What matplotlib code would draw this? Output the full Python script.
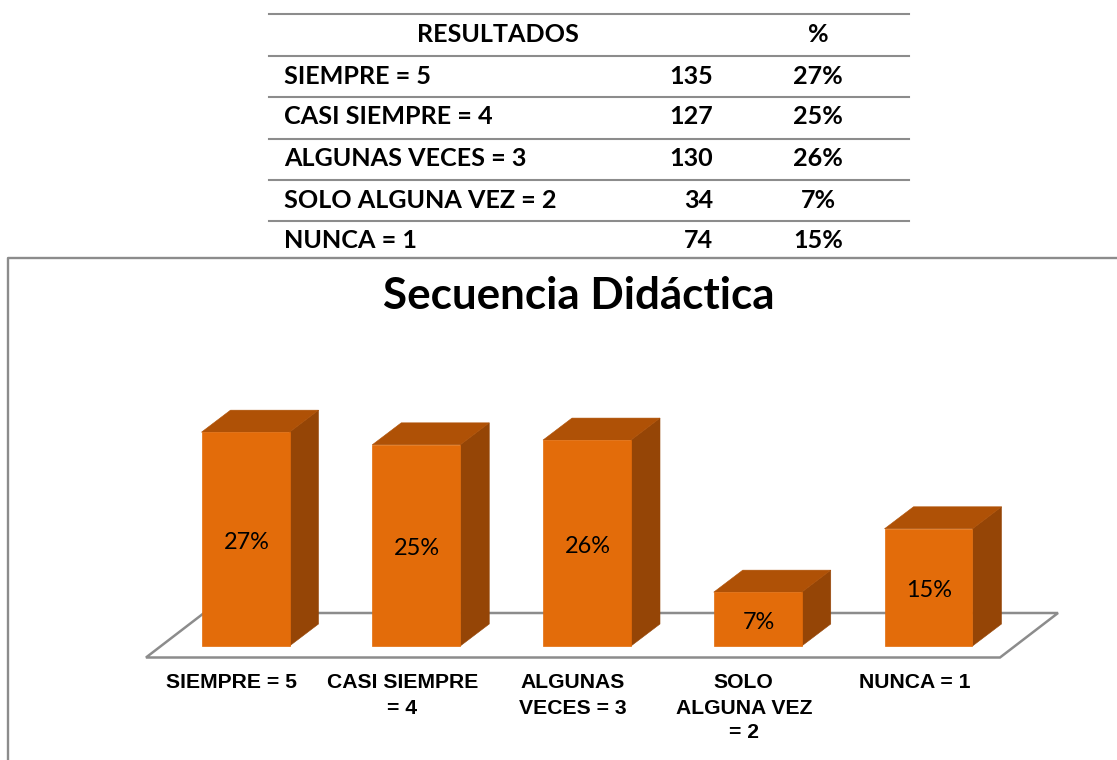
import numpy as np
import matplotlib.pyplot as plt
from matplotlib.patches import Polygon

# table / chart data
table_header = ["RESULTADOS", "%"]
categories = ["SIEMPRE = 5", "CASI SIEMPRE = 4", "ALGUNAS VECES = 3", "SOLO ALGUNA VEZ = 2", "NUNCA = 1"]
tick_labels = ["SIEMPRE = 5", "CASI SIEMPRE\n= 4", "ALGUNAS\nVECES = 3", "SOLO\nALGUNA VEZ\n= 2", "NUNCA = 1"]
counts = [135, 127, 130, 34, 74]
pct_labels = ["27%", "25%", "26%", "7%", "15%"]
title = "Secuencia Didáctica"

W, H = 1117, 760
table_font = "Lato"
front_col = "#E36C0A"
top_col = "#AF5106"
side_col = "#954506"
line_col = "#8C8C8C"

fig = plt.figure(figsize=(W / 100, H / 100), dpi=100)

# overlay in pixel coords for the table and the frame
bg = fig.add_axes([0, 0, 1, 1])
bg.set_xlim(0, W)
bg.set_ylim(H, 0)
bg.axis("off")

for y in [14, 56, 97, 139, 180, 221]:
    bg.plot([269, 909], [y, y], color=line_col, lw=1.5)
bg.plot([8, 8, W], [H, 258, 258], color=line_col, lw=1.7)

bg.text(498, 35, table_header[0], ha="center", va="center", family=table_font, weight="bold", fontsize=18.1)
bg.text(818, 35, table_header[1], ha="center", va="center", family=table_font, weight="bold", fontsize=18.1)
row_y = [76, 117, 159, 200, 241]
for y, cat, n, p in zip(row_y, categories, counts, pct_labels):
    bg.text(284, y, cat, ha="left", va="center", family=table_font, weight="bold", fontsize=18.1)
    bg.text(713, y, str(n), ha="right", va="center", family=table_font, weight="bold", fontsize=18.1)
    bg.text(818, y, p, ha="center", va="center", family=table_font, weight="bold", fontsize=18.1)

bg.text(579, 296, title, ha="center", va="center", family=table_font, weight="bold", fontsize=31.7)

# chart axes: x is category index, y is percent of all answers
percent = np.array(counts) / sum(counts) * 100
x_unit = 170.75   # px per category
y_unit = 7.92     # px per percent
x0_px, base_px = 245.5, 646
left, right, top, bottom = 130, 1075, 400, 670
ax = fig.add_axes([left / W, 1 - bottom / H, (right - left) / W, (bottom - top) / H])
ax.set_xlim((left - x0_px) / x_unit, (right - x0_px) / x_unit)
ax.set_ylim((base_px - bottom) / y_unit, (base_px - top) / y_unit)
ax.axis("off")

bar_w = 88 / x_unit
dx = 29 / x_unit
dy = 22 / y_unit

# floor
fl = -11.5 / y_unit
x_a = (146 - x0_px) / x_unit
x_b = (1000 - x0_px) / x_unit
ax.add_patch(Polygon([(x_a, fl), (x_b, fl), (x_b + 58 / x_unit, dy + 11 / y_unit), (x_a + 58 / x_unit, dy + 11 / y_unit)],
                     closed=True, fc="white", ec=line_col, lw=1.8, zorder=1))

for i, v in enumerate(percent):
    x1 = i - bar_w / 2
    x2 = i + bar_w / 2
    ax.add_patch(Polygon([(x2, 0), (x2 + dx, dy), (x2 + dx, v + dy), (x2, v)], closed=True,
                         fc=side_col, ec=side_col, lw=0.4, zorder=2))
    ax.add_patch(Polygon([(x1, v), (x2, v), (x2 + dx, v + dy), (x1 + dx, v + dy)], closed=True,
                         fc=top_col, ec=top_col, lw=0.4, zorder=2))
    ax.bar(i, v, width=bar_w, color=front_col, edgecolor=front_col, lw=0.5, zorder=3)
    ax.text(i + 1 / x_unit, v / 2 - 0.45, pct_labels[i], ha="center", va="center", family=table_font, fontsize=16.9, zorder=4)
    ax.text(i - 14 / x_unit, -27.5 / y_unit, tick_labels[i], ha="center", va="top", family="Liberation Sans",
            weight="bold", fontsize=15.2, linespacing=1.4, clip_on=False)

plt.savefig("out.png", dpi=100)
